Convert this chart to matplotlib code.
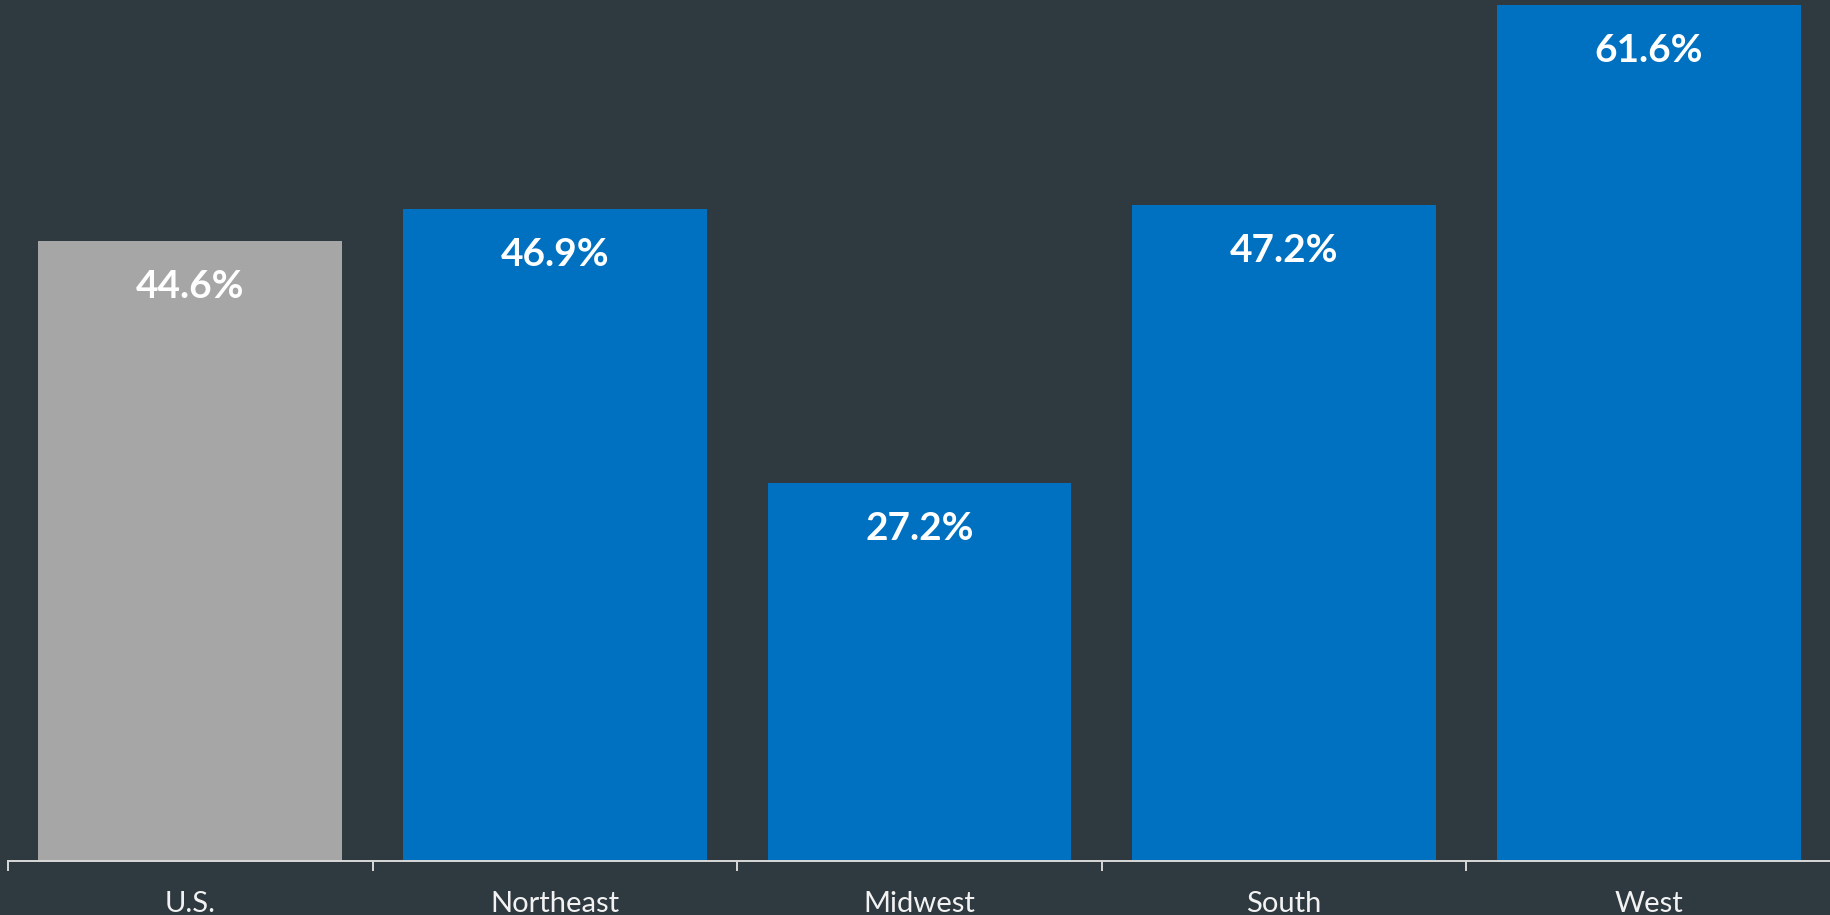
import matplotlib.pyplot as plt

# Share of homes by region
regions = ["U.S.", "Northeast", "Midwest", "South", "West"]
shares = [44.6, 46.9, 27.2, 47.2, 61.6]
bar_colors = ["#A6A6A6", "#0070C0", "#0070C0", "#0070C0", "#0070C0"]

bg = "#2F3940"

fig = plt.figure(figsize=(18.31, 9.159), dpi=100, facecolor=bg)
ax = fig.add_axes([8 / 1831, 54 / 916, 1823 / 1831, 862 / 916], facecolor=bg)

x = range(len(regions))
ax.bar(x, shares, width=0.833, color=bar_colors, zorder=2)

# Value labels inside the top of each bar
for i, v in enumerate(shares):
    ax.annotate(f"{v:.1f}%", xy=(i, v), xytext=(0, -32), textcoords="offset points",
                ha="center", va="center", color="white", fontsize=28,
                fontweight="bold", family="Lato")

ax.set_xlim(-0.5, len(regions) - 0.5)
ax.set_ylim(0, 62)

# Category ticks sit on the boundaries between bars
ax.set_xticks([i - 0.5 for i in range(len(regions) + 1)])
ax.set_xticklabels([])
ax.set_xticks(list(x), minor=True)
ax.set_xticklabels(regions, minor=True, color="#F2F2F2", fontsize=21, family="Lato")
ax.tick_params(axis="x", which="major", length=7.2, width=1.4, color="#D9D9D9", direction="out")
ax.tick_params(axis="x", which="minor", length=0, pad=21)
ax.set_yticks([])

for side in ["top", "right", "left"]:
    ax.spines[side].set_visible(False)
ax.spines["bottom"].set_color("#D9D9D9")
ax.spines["bottom"].set_linewidth(1.4)

plt.savefig("out.png", dpi=100, facecolor=bg)
